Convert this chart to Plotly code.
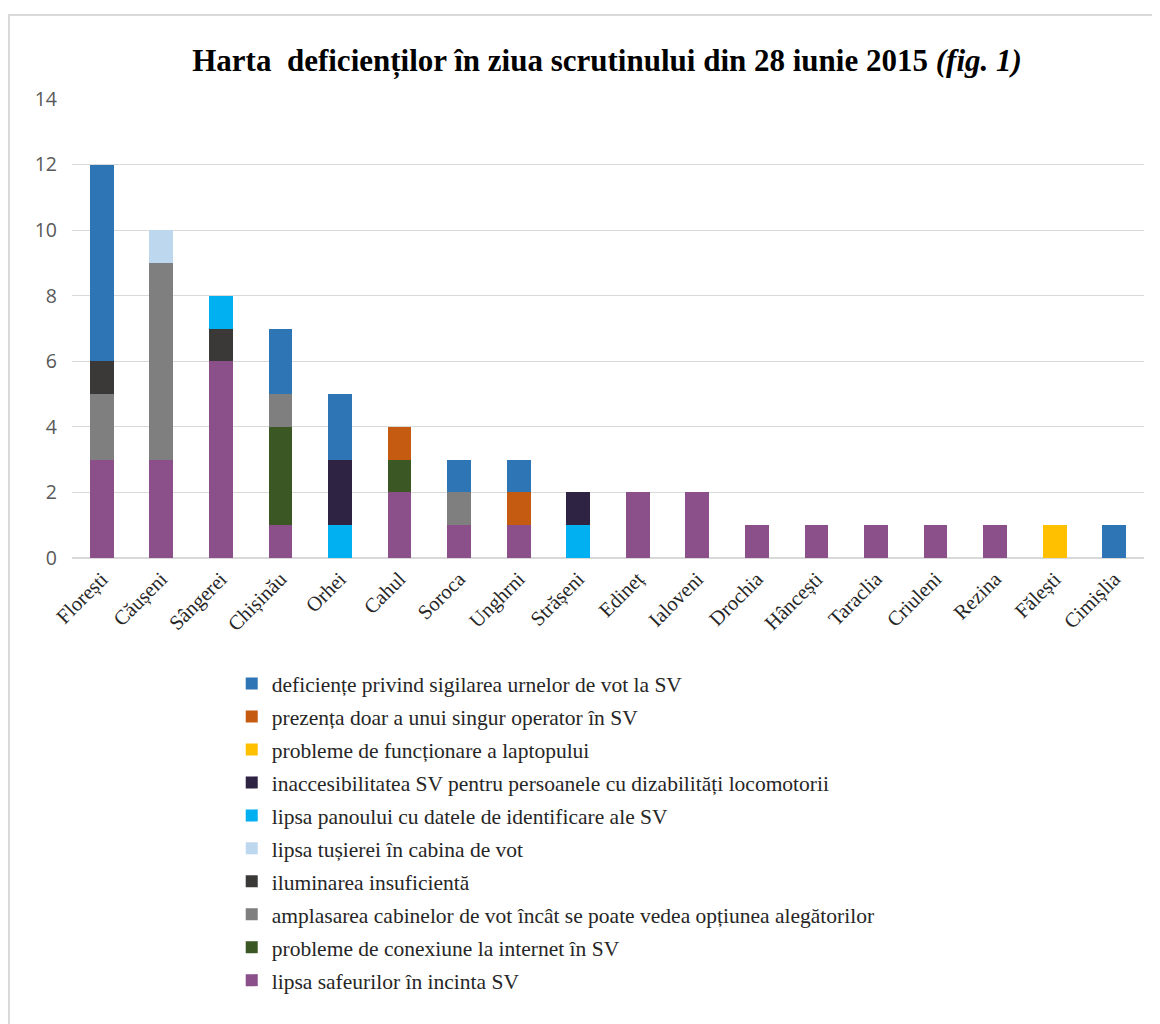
import plotly.graph_objects as go

categories = ["Florești", "Căușeni", "Sângerei", "Chișinău", "Orhei", "Cahul", "Soroca",
              "Unghrni", "Strășeni", "Edineț", "Ialoveni", "Drochia", "Hâncești", "Taraclia",
              "Criuleni", "Rezina", "Fălești", "Cimișlia"]

# stacked bottom -> top
safeuri     = [3, 3, 6, 1, 0, 2, 1, 1, 0, 2, 2, 1, 1, 1, 1, 1, 0, 0]
internet    = [0, 0, 0, 3, 0, 1, 0, 0, 0, 0, 0, 0, 0, 0, 0, 0, 0, 0]
amplasare   = [2, 6, 0, 1, 0, 0, 1, 0, 0, 0, 0, 0, 0, 0, 0, 0, 0, 0]
iluminare   = [1, 0, 1, 0, 0, 0, 0, 0, 0, 0, 0, 0, 0, 0, 0, 0, 0, 0]
tusiera     = [0, 1, 0, 0, 0, 0, 0, 0, 0, 0, 0, 0, 0, 0, 0, 0, 0, 0]
panou       = [0, 0, 1, 0, 1, 0, 0, 0, 1, 0, 0, 0, 0, 0, 0, 0, 0, 0]
inaccesibil = [0, 0, 0, 0, 2, 0, 0, 0, 1, 0, 0, 0, 0, 0, 0, 0, 0, 0]
laptop      = [0, 0, 0, 0, 0, 0, 0, 0, 0, 0, 0, 0, 0, 0, 0, 0, 1, 0]
operator    = [0, 0, 0, 0, 0, 1, 0, 1, 0, 0, 0, 0, 0, 0, 0, 0, 0, 0]
sigilare    = [6, 0, 0, 2, 2, 0, 1, 1, 0, 0, 0, 0, 0, 0, 0, 0, 0, 1]

series_names = [
    "lipsa safeurilor în incinta SV",
    "probleme de conexiune la internet în SV",
    "amplasarea cabinelor de vot încât se poate vedea opțiunea alegătorilor",
    "iluminarea insuficientă",
    "lipsa tușierei în cabina de vot",
    "lipsa panoului cu datele de identificare ale SV",
    "inaccesibilitatea SV pentru persoanele cu dizabilități locomotorii",
    "probleme de funcționare a laptopului",
    "prezența doar a unui singur operator în SV",
    "deficiențe privind sigilarea urnelor de vot la SV",
]
series_values = [safeuri, internet, amplasare, iluminare, tusiera, panou,
                 inaccesibil, laptop, operator, sigilare]
series_colors = ["#8B4F8A", "#3B5724", "#7F7F7F", "#3B3938", "#BDD7EE", "#00B0F0",
                 "#2E2342", "#FFC000", "#C55A11", "#2E75B6"]

title_text = "<b>Harta  deficienților în ziua scrutinului din 28 iunie 2015 <i>(fig. 1)</i></b>"

n = len(series_names)
fig = go.Figure()
for i, (name, vals, col) in enumerate(zip(series_names, series_values, series_colors)):
    fig.add_trace(go.Bar(
        x=categories, y=vals, name=name, marker_color=col,
        marker_line_width=0, width=0.4, legendgroup=f"g{i}", legendrank=n - i,
    ))

fig.update_layout(
    barmode="stack",
    width=1152, height=1016,
    paper_bgcolor="white", plot_bgcolor="white",
    margin=dict(l=64, r=16, t=91, b=466),
    title=dict(text=title_text, x=0.52, xanchor="center", y=0.949, yanchor="middle",
               font=dict(family="Liberation Serif", size=31, color="black")),
    xaxis=dict(range=[-0.5, 17.5], tickangle=-45, showgrid=False,
               showline=True, linecolor="#D9D9D9", linewidth=1, ticks="",
               tickfont=dict(family="Liberation Serif", size=20.5, color="#262626")),
    yaxis=dict(range=[0, 14], dtick=2, showgrid=True, gridcolor="#D9D9D9", gridwidth=1,
               zeroline=True, zerolinecolor="#D9D9D9", showline=False, ticks="",
               tickfont=dict(family="Open Sans", size=19.5, color="#595959"),
               ticklabelstandoff=14),
    legend=dict(orientation="v", traceorder="grouped", tracegroupgap=2,
                x=0.149, xanchor="left", y=-0.229, yanchor="top",
                font=dict(family="Liberation Serif", size=21.5, color="#262626"),
                bgcolor="rgba(0,0,0,0)"),
    shapes=[dict(type="rect", xref="paper", yref="paper",
                 x0=-0.0588, x1=1.2, y0=-1.5, y1=1.183,
                 line=dict(color="#D9D9D9", width=2), fillcolor="rgba(0,0,0,0)", layer="below")],
)

fig.write_html("out.html")
